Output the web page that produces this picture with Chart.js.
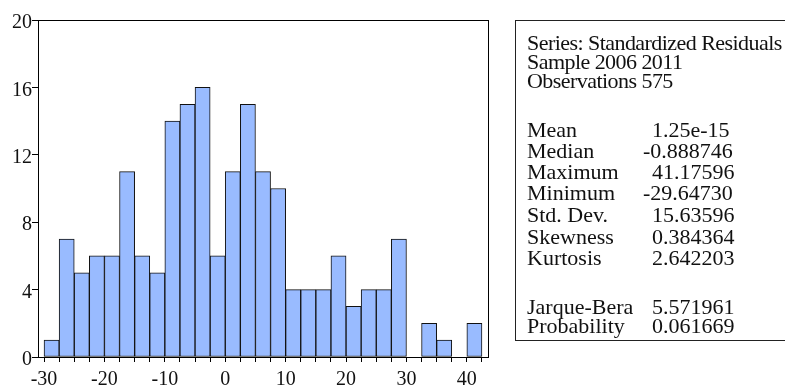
<!DOCTYPE html>
<html>
<head>
<meta charset="utf-8">
<script src="https://cdn.jsdelivr.net/npm/chart.js@4"></script>
<style>
  body { margin: 0; background: #fff; }
  #wrap { position: relative; width: 785px; height: 388px; }
  #stats {
    position: absolute; left: 515px; top: 20px; width: 300px; height: 321px;
    border: 1px solid #222; box-sizing: border-box;
    font-family: "Liberation Serif", "DejaVu Serif", serif; font-size: 22px; color: #111;
  }
  #stats div { position: absolute; white-space: pre; line-height: 20px; }
  .head { letter-spacing: -0.55px; }
</style>
</head>
<body>
<div id="wrap">
  <canvas id="histChart" width="785" height="388"></canvas>
  <div id="stats"></div>
</div>
<script>
// histogram bins (centre of each 2.5 wide bin) and counts
const binCenters = [-28.75, -26.25, -23.75, -21.25, -18.75, -16.25, -13.75, -11.25, -8.75, -6.25,
                    -3.75, -1.25, 1.25, 3.75, 6.25, 8.75, 11.25, 13.75, 16.25, 18.75,
                    21.25, 23.75, 26.25, 28.75, 31.25, 33.75, 36.25, 38.75, 41.25];
const counts = [1, 7, 5, 6, 6, 11, 6, 5, 14, 15,
                16, 6, 11, 15, 11, 10, 4, 4, 4, 6,
                3, 4, 4, 7, 0, 2, 1, 0, 2];
// tick marks on the x axis (bin edges), labelled every 10
const xTickValues = [-30, -27.5, -25, -22.5, -20, -17.5, -15, -12.5, -10, -7.5, -5, -2.5, 0,
                     2.5, 5, 7.5, 10, 12.5, 15, 17.5, 20, 22.5, 25, 27.5, 30, 32.5, 35, 37.5, 40, 42.5];
const xTickLabels = [-30, -20, -10, 0, 10, 20, 30, 40];
const yTickValues = [0, 4, 8, 12, 16, 20];

// statistics box
const headLines = ['Series: Standardized Residuals', 'Sample 2006 2011', 'Observations 575'];
const statNames = ['Mean', 'Median', 'Maximum', 'Minimum', 'Std. Dev.', 'Skewness', 'Kurtosis', 'Jarque-Bera', 'Probability'];
const statValues = ['1.25e-15', '-0.888746', '41.17596', '-29.64730', '15.63596', '0.384364', '2.642203', '5.571961', '0.061669'];

// vertical centre of each text line (page pixels)
const headCenters = [43, 62, 81];
const statCenters = [130, 151, 172, 193, 215, 237, 258, 307, 326];
const box = document.getElementById('stats');
function addLine(text, left, centre, cls) {
    const d = document.createElement('div');
    if (cls) d.className = cls;
    d.textContent = text;
    d.style.left = left + 'px';
    d.style.top = (centre - 10 - 21) + 'px';
    box.appendChild(d);
}
headLines.forEach((t, i) => addLine(t, 11, headCenters[i], 'head'));
statNames.forEach(function(t, i) {
    addLine(t, 11, statCenters[i]);
    addLine(statValues[i], statValues[i].charAt(0) === '-' ? 127 : 136, statCenters[i]);
});

const framePlugin = {
    id: 'frame',
    afterDraw(chart) {
        const a = chart.chartArea;
        const ctx = chart.ctx;
        ctx.save();
        ctx.strokeStyle = '#000';
        ctx.lineWidth = 1;
        ctx.strokeRect(Math.round(a.left) + 0.5, Math.round(a.top) + 0.5, Math.round(a.right - a.left), Math.round(a.bottom - a.top));
        ctx.restore();
    }
};

const ctx = document.getElementById('histChart').getContext('2d');
new Chart(ctx, {
    type: 'bar',
    data: {
        datasets: [{
            data: binCenters.map((x, i) => ({ x: x, y: counts[i] })),
            backgroundColor: '#99bbff',
            borderColor: '#111',
            borderWidth: 1,
            borderSkipped: false,
            barPercentage: 1,
            categoryPercentage: 1
        }]
    },
    options: {
        responsive: false,
        animation: false,
        layout: { padding: { left: 0, top: 20, right: 297, bottom: 0 } },
        scales: {
            x: {
                type: 'linear',
                offset: false,
                min: -31,
                max: 43.5,
                afterBuildTicks: function(scale) {
                    scale.ticks = xTickValues.map(v => ({ value: v }));
                },
                afterFit: function(scale) { scale.height = 31; },
                grid: { drawOnChartArea: false, tickLength: 5, color: '#000', offset: false },
                border: { color: '#000' },
                ticks: {
                    autoSkip: false,
                    maxRotation: 0,
                    padding: 6,
                    color: '#111',
                    font: { family: '"Liberation Serif", serif', size: 20 },
                    callback: function(v) { return xTickLabels.includes(v) ? String(v) : ''; }
                }
            },
            y: {
                min: 0,
                max: 20,
                afterBuildTicks: function(scale) {
                    scale.ticks = yTickValues.map(v => ({ value: v }));
                },
                afterFit: function(scale) { scale.width = 38; },
                grid: { drawOnChartArea: false, tickLength: 6, color: '#000' },
                border: { color: '#000' },
                ticks: {
                    padding: 0,
                    labelOffset: 3,
                    color: '#111',
                    font: { family: '"Liberation Serif", serif', size: 20 }
                }
            }
        },
        plugins: {
            legend: { display: false },
            tooltip: { enabled: false }
        }
    },
    plugins: [framePlugin]
});
</script>
</body>
</html>
